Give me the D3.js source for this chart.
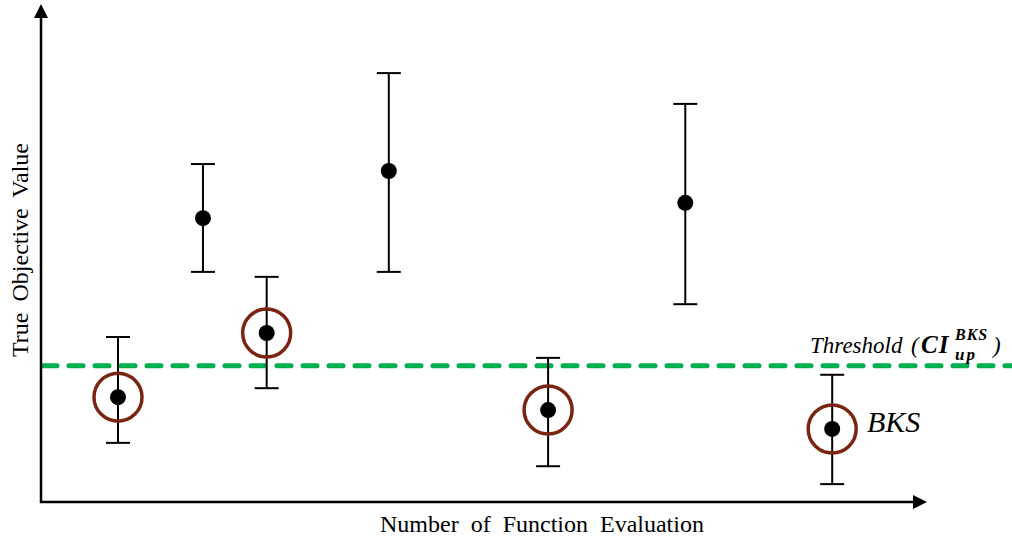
<!DOCTYPE html>
<html>
<head>
<meta charset="utf-8">
<script src="https://cdn.jsdelivr.net/npm/d3@7"></script>
<style>
  body { margin: 0; background: #fff; }
  svg text { font-family: 'Liberation Serif', 'Times New Roman', serif; }
</style>
</head>
<body>
<div id="chart"></div>
<script>
// evaluations (x), mean objective value and confidence bounds (y)
var evals = [8.7, 18.3, 25.5, 39.3, 57.3, 72.8, 89.4];
var means = [21.1, 57.1, 34.0, 66.6, 18.5, 60.2, 14.7];
var upper = [33.2, 68.0, 45.3, 86.3, 29.0, 80.1, 25.6];
var lower = [11.9, 46.3, 22.9, 46.3, 7.2, 39.8, 3.6];
var isBks = [true, false, true, false, true, false, true];
var threshold = 27.4;

var attrs = {
  svgWidth: 1012,
  svgHeight: 540,
  axisLeft: 41,
  axisRight: 926,
  axisTop: 5,
  axisBottom: 502,
  green: '#00b050',
  ring: '#7b2412'
};

var x = d3.scaleLinear().domain([0, 100]).range([attrs.axisLeft, attrs.axisRight]);
var y = d3.scaleLinear().domain([0, 100]).range([attrs.axisBottom, attrs.axisTop]);

var svg = d3.select('#chart').append('svg')
  .attr('width', attrs.svgWidth)
  .attr('height', attrs.svgHeight);

var data = evals.map(function (d, i) {
  return { x: d, y: means[i], hi: upper[i], lo: lower[i], bks: isBks[i] };
});

//threshold line
svg.append('line')
  .attr('x1', x(0) + 2).attr('x2', attrs.svgWidth)
  .attr('y1', y(threshold)).attr('y2', y(threshold))
  .attr('stroke', attrs.green)
  .attr('stroke-width', 5)
  .attr('stroke-dasharray', '14 12')
  .attr('stroke-linecap', 'round');

//error bars
var bars = svg.append('g').selectAll('g').data(data).enter().append('g');
bars.append('line')
  .attr('x1', d => x(d.x)).attr('x2', d => x(d.x))
  .attr('y1', d => y(d.hi)).attr('y2', d => y(d.lo))
  .attr('stroke', '#000').attr('stroke-width', 2);
bars.selectAll('.cap').data(d => [[d.x, d.hi], [d.x, d.lo]]).enter().append('line')
  .attr('class', 'cap')
  .attr('x1', d => x(d[0]) - 12).attr('x2', d => x(d[0]) + 12)
  .attr('y1', d => y(d[1])).attr('y2', d => y(d[1]))
  .attr('stroke', '#000').attr('stroke-width', 2);
bars.append('circle')
  .attr('cx', d => x(d.x)).attr('cy', d => y(d.y))
  .attr('r', 8).attr('fill', '#000');
bars.filter(d => d.bks).append('circle')
  .attr('cx', d => x(d.x)).attr('cy', d => y(d.y))
  .attr('r', 24).attr('fill', 'none')
  .attr('stroke', attrs.ring).attr('stroke-width', 3.5);

//axes with arrows
svg.append('line')
  .attr('x1', x(0)).attr('x2', x(0))
  .attr('y1', attrs.axisBottom + 1).attr('y2', attrs.axisTop + 10)
  .attr('stroke', '#000').attr('stroke-width', 2.5);
svg.append('path')
  .attr('d', 'M' + (x(0) - 7) + ',' + (attrs.axisTop + 13) + 'L' + x(0) + ',' + (attrs.axisTop - 1) + 'L' + (x(0) + 7) + ',' + (attrs.axisTop + 13) + 'Z')
  .attr('fill', '#000');
svg.append('line')
  .attr('x1', x(0) - 1).attr('x2', attrs.axisRight - 10)
  .attr('y1', attrs.axisBottom).attr('y2', attrs.axisBottom)
  .attr('stroke', '#000').attr('stroke-width', 2.5);
svg.append('path')
  .attr('d', 'M' + (attrs.axisRight - 13) + ',' + (attrs.axisBottom - 7) + 'L' + (attrs.axisRight + 1) + ',' + attrs.axisBottom + 'L' + (attrs.axisRight - 13) + ',' + (attrs.axisBottom + 7) + 'Z')
  .attr('fill', '#000');

//axis titles
svg.append('text')
  .attr('x', 542).attr('y', 532)
  .attr('text-anchor', 'middle')
  .attr('font-size', 24)
  .attr('word-spacing', 6)
  .text('Number of Function Evaluation');
svg.append('text')
  .attr('transform', 'translate(28,250) rotate(-90)')
  .attr('text-anchor', 'middle')
  .attr('font-size', 24)
  .attr('word-spacing', 5)
  .text('True Objective Value');

//threshold label
var lab = svg.append('g')
  .attr('font-style', 'italic');
lab.append('text').attr('x', 810).attr('y', 353).attr('font-size', 23).text('Threshold');
lab.append('text').attr('x', 911).attr('y', 353).attr('font-size', 23).text('(');
lab.append('text').attr('x', 921).attr('y', 353).attr('font-size', 25).attr('font-weight', 'bold').attr('letter-spacing', 1).text('CI');
lab.append('text').attr('x', 955).attr('y', 340).attr('font-size', 16).attr('font-weight', 'bold').attr('letter-spacing', 1).text('BKS');
lab.append('text').attr('x', 955).attr('y', 360).attr('font-size', 17).attr('font-weight', 'bold').attr('letter-spacing', 2).text('up');
lab.append('text').attr('x', 993).attr('y', 353).attr('font-size', 23).text(')');

svg.append('text')
  .attr('x', 867).attr('y', 432)
  .attr('font-size', 30)
  .attr('font-style', 'italic')
  .text('BKS');
</script>
</body>
</html>
